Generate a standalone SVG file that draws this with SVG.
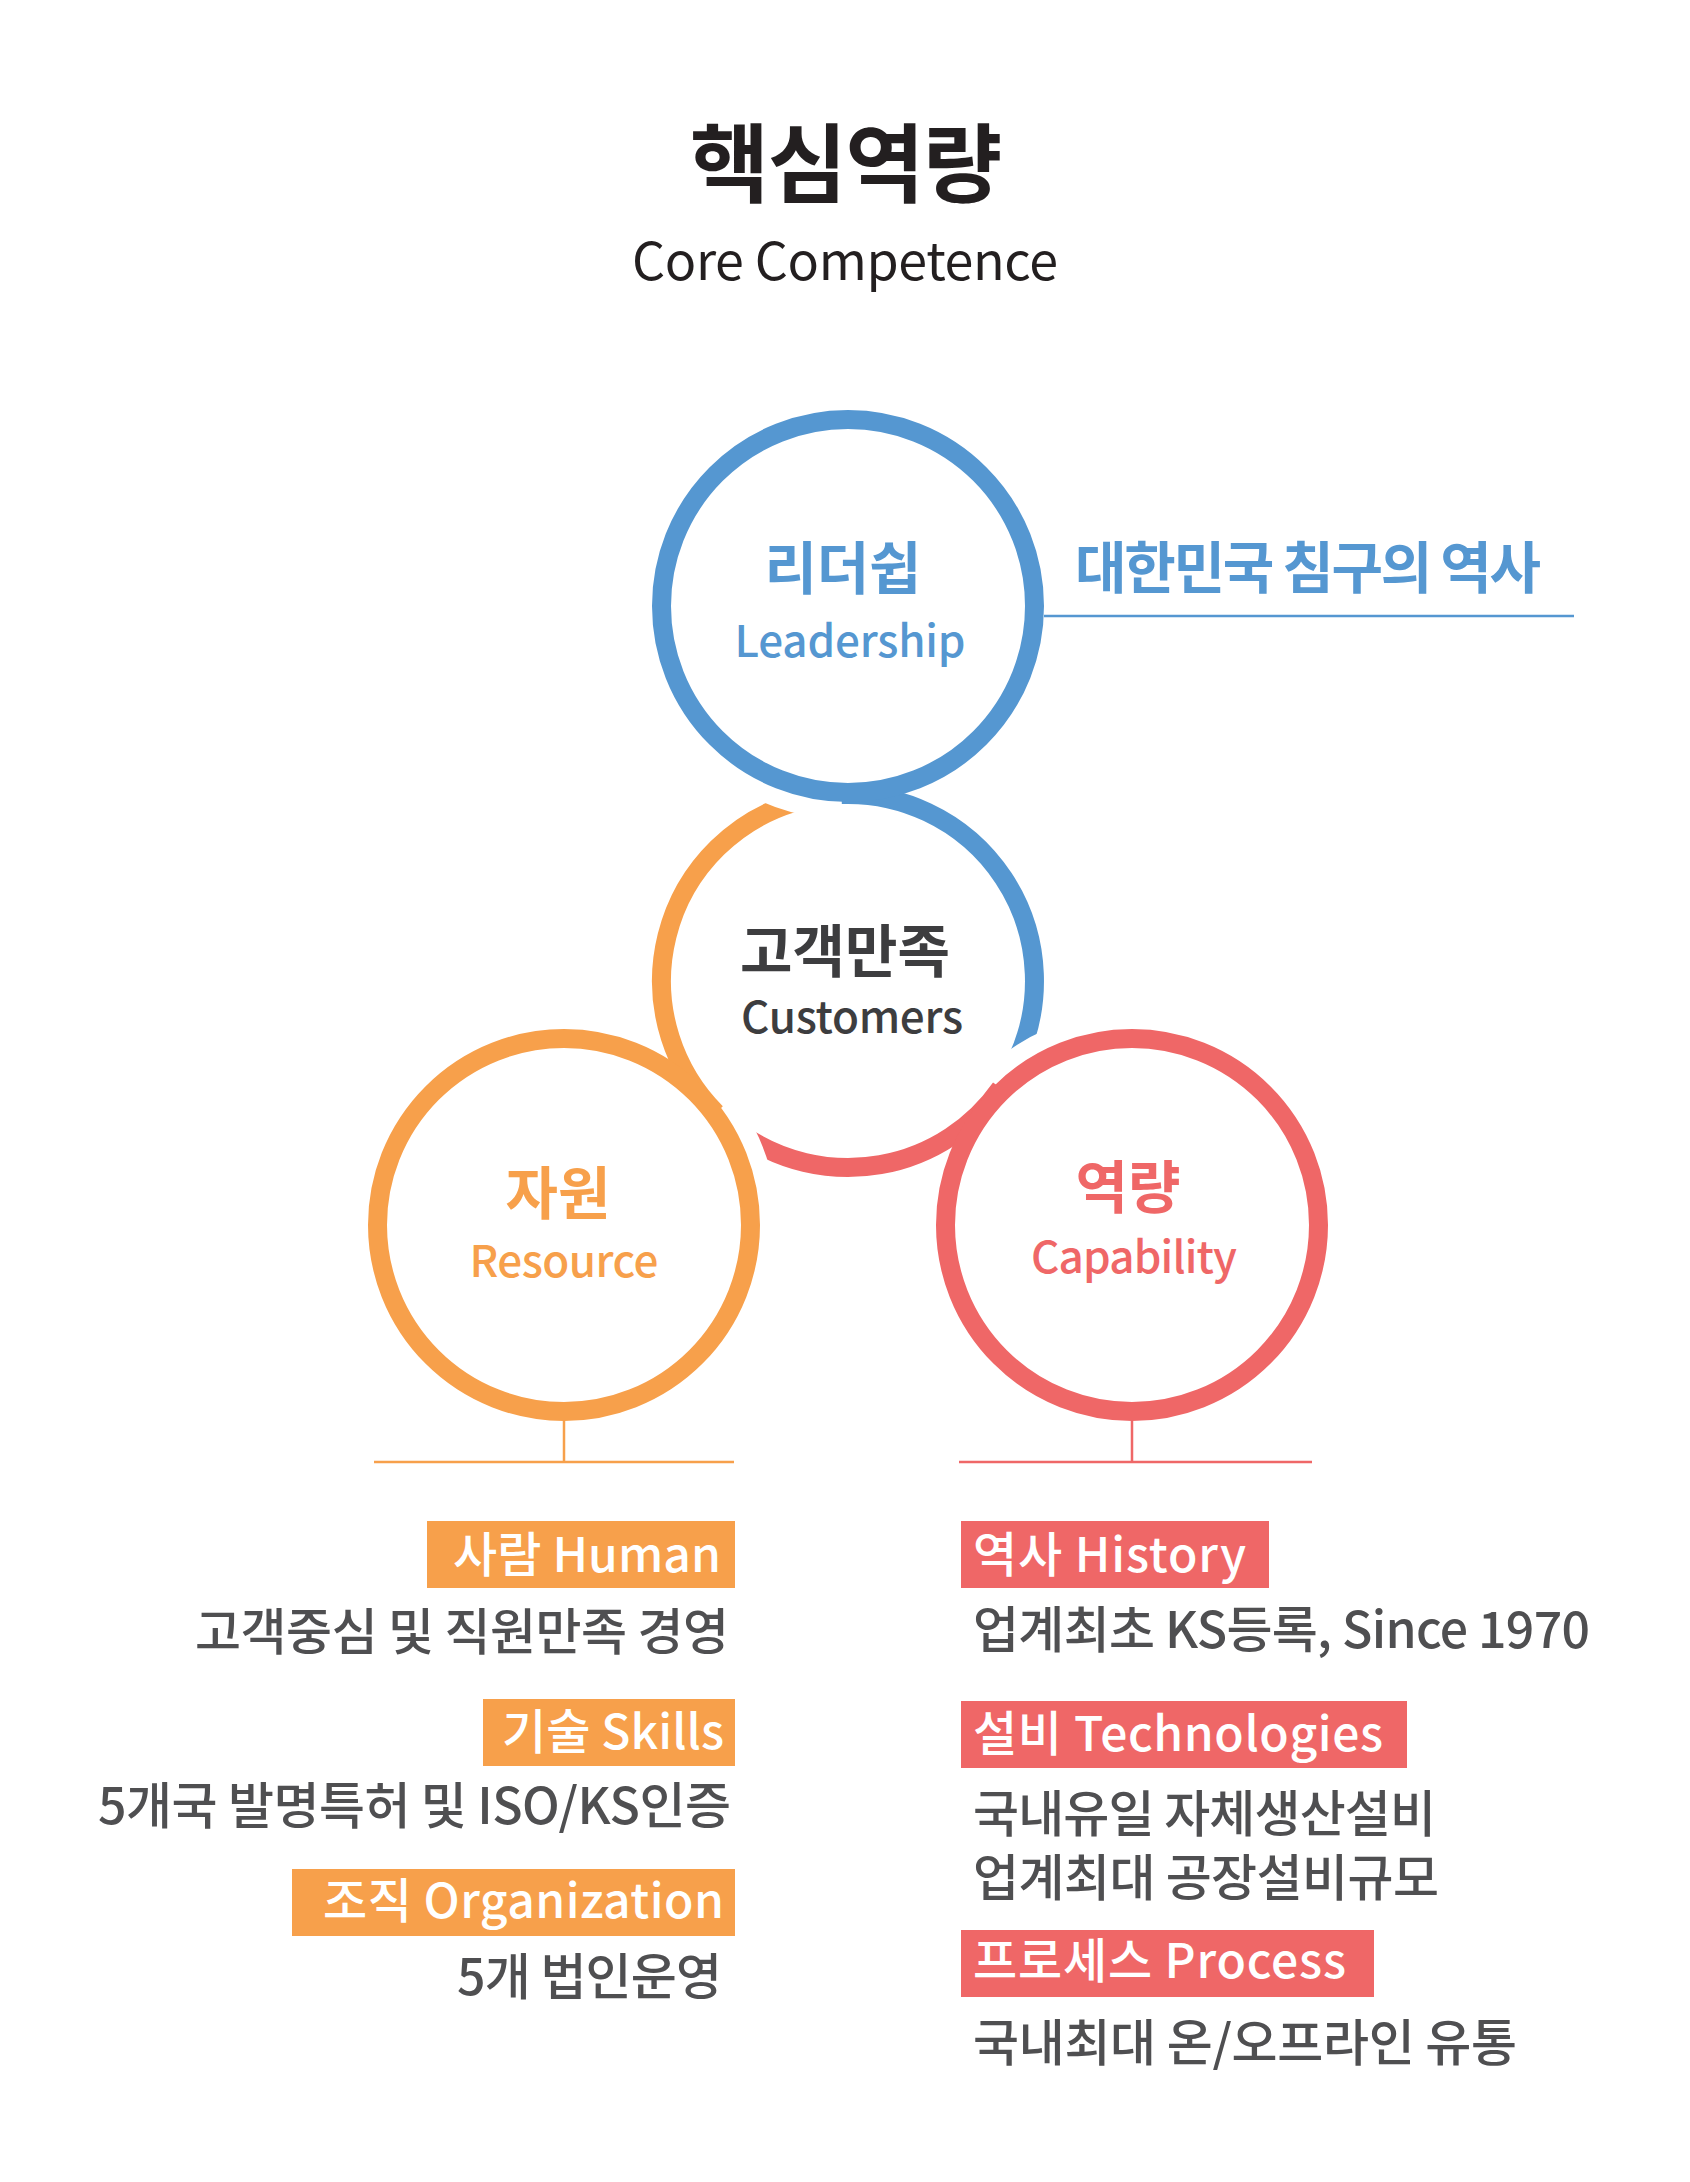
<svg xmlns="http://www.w3.org/2000/svg" width="1690" height="2182" viewBox="0 0 1690 2182">
<style>
text{font-family:"Noto Sans CJK KR","Noto Sans",sans-serif}
.ring{fill:none;stroke-width:19}
.blue{stroke:#5597d1}
.org{stroke:#f7a04b}
.red{stroke:#ef6767}
.halo{fill:none;stroke:#fff;stroke-width:54}
.thin{fill:none;stroke-width:2.5}
.ko{font-size:57px;font-weight:700;text-anchor:middle}
.en{font-size:44px;font-weight:500;text-anchor:middle}
.lab{fill:#fff;font-size:48px;font-weight:500}
.body{fill:#4f4f51;font-size:50px;font-weight:500}
.end{text-anchor:end}
</style>
<rect width="1690" height="2182" fill="#fff"/>
<g id="title">
<text x="846" y="196" font-size="86" font-weight="700" text-anchor="middle" textLength="312" fill="#231f20">핵심역량</text>
<text x="845" y="280" font-size="52" font-weight="400" text-anchor="middle" textLength="426" fill="#231f20">Core Competence</text>
</g>
<g id="connectors">
<line class="thin blue" x1="1044" y1="616" x2="1574" y2="616"/>
<line class="thin org" x1="564" y1="1421" x2="564" y2="1462"/>
<line class="thin org" x1="374" y1="1462" x2="734" y2="1462"/>
<line class="thin red" x1="1132" y1="1421" x2="1132" y2="1462"/>
<line class="thin red" x1="959" y1="1462" x2="1312" y2="1462"/>
</g>
<g id="node-customers">
<path class="ring blue" d="M841.5,794.6 A186.5,186.5 0 0 1 1017.0,1059.8"/>
<path class="halo" d="M1002.4,1090.9 A186.5,186.5 0 0 1 1086.9,1044.0"/>
<path class="ring red" d="M1000.8,1088.0 A186.5,186.5 0 0 1 741.0,1133.8"/>
<path class="halo" d="M718.6,1120.7 A186.5,186.5 0 0 1 748.7,1199.0"/>
<path class="ring org" d="M716.1,1112.9 A186.5,186.5 0 0 1 793.5,802.7"/>
<path class="halo" d="M822.0,790.7 A186.5,186.5 0 0 1 728.1,748.9"/>
<text class="ko" x="845" y="972" font-size="58" textLength="210" fill="#3d3d3f">고객만족</text>
<text class="en" x="852" y="1033" textLength="222" fill="#3d3d3f">Customers</text>
</g>
<g id="node-leadership">
<circle class="ring blue" cx="848" cy="606" r="186.5"/>
<text class="ko" x="843" y="589" textLength="157" fill="#5597d1">리더쉽</text>
<text class="en" x="850" y="657" textLength="231" fill="#5597d1">Leadership</text>
</g>
<g id="node-resource">
<circle class="ring org" cx="564" cy="1225" r="186.5"/>
<text class="ko" x="558" y="1214" font-size="58" textLength="105" fill="#f7a04b">자원</text>
<text class="en" x="564" y="1277" textLength="189" fill="#f7a04b">Resource</text>
</g>
<g id="node-capability">
<circle class="ring red" cx="1132" cy="1225" r="186.5"/>
<text class="ko" x="1128" y="1208" font-size="58" textLength="105" fill="#ef6767">역량</text>
<text class="en" x="1134" y="1273" textLength="206" fill="#ef6767">Capability</text>
</g>
<g id="node-history-label">
<text x="1075" y="588" font-size="56" font-weight="700" textLength="466" fill="#5597d1">대한민국 침구의 역사</text>
</g>
<g id="node-human">
<rect x="427" y="1521" width="308" height="67" fill="#f7a04b"/>
<text class="lab end" x="721" y="1572" textLength="268">사람 Human</text>
<text class="body end" x="729" y="1650" textLength="534">고객중심 및 직원만족 경영</text>
</g>
<g id="node-skills">
<rect x="483" y="1699" width="252" height="67" fill="#f7a04b"/>
<text class="lab end" x="724" y="1749" textLength="222">기술 Skills</text>
<text class="body end" x="731" y="1824" textLength="633">5개국 발명특허 및 ISO/KS인증</text>
</g>
<g id="node-organization">
<rect x="292" y="1869" width="443" height="67" fill="#f7a04b"/>
<text class="lab end" x="724" y="1918" textLength="401">조직 Organization</text>
<text class="body end" x="722" y="1995" textLength="265">5개 법인운영</text>
</g>
<g id="node-history">
<rect x="961" y="1521" width="308" height="67" fill="#ef6767"/>
<text class="lab" x="973" y="1572" textLength="273">역사 History</text>
<text class="body" x="973" y="1648" textLength="617">업계최초 KS등록, Since 1970</text>
</g>
<g id="node-technologies">
<rect x="961" y="1701" width="446" height="67" fill="#ef6767"/>
<text class="lab" x="973" y="1751" textLength="410">설비 Technologies</text>
<text class="body" x="973" y="1832" textLength="463">국내유일 자체생산설비</text>
<text class="body" x="973" y="1896" textLength="466">업계최대 공장설비규모</text>
</g>
<g id="node-process">
<rect x="961" y="1930" width="413" height="67" fill="#ef6767"/>
<text class="lab" x="973" y="1978" textLength="373">프로세스 Process</text>
<text class="body" x="973" y="2061" textLength="544">국내최대 온/오프라인 유통</text>
</g>
</svg>
